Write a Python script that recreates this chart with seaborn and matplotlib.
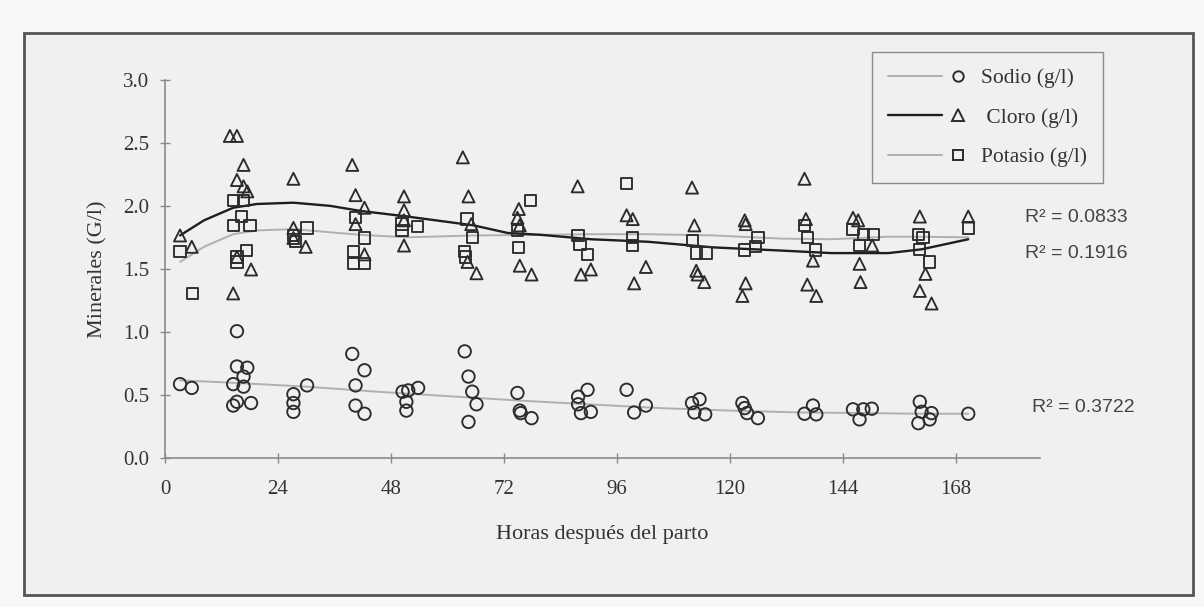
# Minerales en calostro: Sodio, Cloro y Potasio vs horas después del parto

import pandas as pd
import matplotlib
matplotlib.use('Agg')
import matplotlib.pyplot as plt
from matplotlib.patches import Rectangle
from matplotlib.lines import Line2D
from matplotlib.legend_handler import HandlerBase
import seaborn as sns

# --- datos ---
sodio_h = [3.2, 5.7,
           15.3, 15.3, 17.5, 16.7, 14.5, 16.7, 14.5, 15.3, 18.3,
           27.3, 27.3, 27.3, 30.2,
           39.8, 42.4, 40.5, 40.5, 42.4,
           50.5, 51.7, 53.8, 51.3, 51.3,
           63.7, 64.5, 65.3, 66.2, 64.5,
           74.9, 75.4, 75.6, 77.9,
           87.8, 89.8, 87.8, 88.4, 90.5,
           98.1, 99.7, 102.2,
           112.0, 113.6, 112.5, 114.8,
           122.7, 123.2, 123.7, 126.0,
           135.9, 137.7, 138.4,
           146.2, 147.6, 150.2, 148.4,
           160.4, 162.5, 160.1, 162.9, 160.8,
           170.7]
sodio_g = [0.59, 0.56,
           1.01, 0.73, 0.72, 0.65, 0.59, 0.57, 0.42, 0.45, 0.44,
           0.51, 0.44, 0.37, 0.58,
           0.83, 0.70, 0.58, 0.42, 0.355,
           0.53, 0.54, 0.56, 0.45, 0.38,
           0.85, 0.65, 0.53, 0.43, 0.29,
           0.52, 0.38, 0.36, 0.32,
           0.49, 0.545, 0.43, 0.36, 0.37,
           0.545, 0.365, 0.42,
           0.44, 0.47, 0.365, 0.35,
           0.44, 0.40, 0.36, 0.32,
           0.355, 0.42, 0.35,
           0.39, 0.31, 0.395, 0.39,
           0.45, 0.31, 0.28, 0.36, 0.37,
           0.355]

cloro_h = [3.2, 5.7,
           13.8, 15.3, 16.7, 15.3, 16.7, 17.5, 14.5, 18.3, 15.3,
           27.3, 27.3, 29.9, 27.3,
           39.8, 40.5, 42.4, 40.5, 42.4,
           50.8, 50.8, 50.8, 50.8,
           63.3, 64.5, 65.1, 64.3, 66.2,
           75.2, 74.9, 75.4, 75.4, 77.9,
           87.7, 88.4, 90.5,
           98.1, 99.4, 102.2, 99.7,
           112.0, 112.5, 112.9, 114.6, 113.2,
           123.2, 123.4, 123.4, 122.7,
           135.9, 136.2, 137.7, 136.5, 138.4,
           146.2, 147.3, 147.6, 147.8, 150.3,
           160.4, 161.6, 160.4, 162.9,
           170.7]
cloro_g = [1.77, 1.68,
           2.56, 2.56, 2.33, 2.21, 2.16, 2.12, 1.31, 1.50, 1.60,
           2.22, 1.83, 1.68, 1.75,
           2.33, 2.09, 1.99, 1.86, 1.62,
           2.08, 1.97, 1.89, 1.69,
           2.39, 2.08, 1.86, 1.56, 1.47,
           1.98, 1.91, 1.85, 1.53, 1.46,
           2.16, 1.46, 1.50,
           1.93, 1.90, 1.52, 1.39,
           2.15, 1.85, 1.49, 1.40, 1.46,
           1.89, 1.86, 1.39, 1.29,
           2.22, 1.90, 1.57, 1.38, 1.29,
           1.91, 1.89, 1.545, 1.40, 1.69,
           1.92, 1.465, 1.33, 1.23,
           1.92]

potasio_h = [3.2, 5.9,
             14.5, 16.7, 14.5, 18.1, 16.3, 17.4, 15.3, 15.3,
             30.2, 27.3, 27.7,
             40.5, 42.4, 40.0, 40.0, 42.4,
             50.4, 50.4, 53.7,
             64.2, 65.3, 63.7, 63.9,
             77.7, 74.9, 75.2,
             87.8, 88.2, 89.8,
             98.1, 99.4, 99.4,
             112.1, 112.9, 115.0,
             123.2, 126.0, 125.5,
             135.9, 136.6, 138.3,
             146.2, 147.6, 150.5, 148.4,
             160.1, 161.1, 160.4, 162.5,
             170.7]
potasio_g = [1.64, 1.31,
             2.05, 2.05, 1.85, 1.85, 1.92, 1.65, 1.60, 1.56,
             1.83, 1.77, 1.72,
             1.91, 1.75, 1.64, 1.55, 1.55,
             1.86, 1.81, 1.84,
             1.90, 1.755, 1.64, 1.60,
             2.05, 1.81, 1.675,
             1.77, 1.70, 1.62,
             2.18, 1.755, 1.69,
             1.73, 1.63, 1.63,
             1.655, 1.755, 1.68,
             1.85, 1.755, 1.655,
             1.82, 1.69, 1.78, 1.78,
             1.78, 1.755, 1.66, 1.56,
             1.83]

# líneas de tendencia
tend_sodio_h = [3.2, 15, 30, 45, 60, 75, 90, 105, 120, 135, 150, 160, 170.7]
tend_sodio_g = [0.62, 0.60, 0.57, 0.53, 0.495, 0.46, 0.43, 0.40, 0.38, 0.365, 0.36, 0.355, 0.355]

tend_cloro_h = [3.2, 8.3, 14.5, 19.6, 27.3, 35.1, 41.5, 51.5, 65.6, 72.8, 79.9, 90.5,
                102.6, 116.7, 131.0, 141.6, 153.7, 160.8, 170.7]
tend_cloro_g = [1.77, 1.89, 1.99, 2.02, 2.03, 2.005, 1.965, 1.92, 1.85, 1.79, 1.775, 1.74,
                1.72, 1.675, 1.65, 1.63, 1.63, 1.66, 1.74]

tend_potasio_h = [3.2, 8.3, 14.5, 19.6, 27.3, 41.5, 51.5, 65.6, 79.9, 90.5,
                  102.6, 116.7, 131.0, 141.6, 153.7, 160.8, 170.7]
tend_potasio_g = [1.56, 1.68, 1.78, 1.81, 1.82, 1.775, 1.755, 1.77, 1.775, 1.78,
                  1.78, 1.77, 1.745, 1.74, 1.76, 1.76, 1.755]

r2_labels = ['R² = 0.0833', 'R² = 0.1916', 'R² = 0.3722']

x_ticks = [0, 24, 48, 72, 96, 120, 144, 168]
y_ticks = [0.0, 0.5, 1.0, 1.5, 2.0, 2.5, 3.0]

# --- estilo ---
sns.set_style('ticks')
plt.rcParams['font.family'] = ['Liberation Serif', 'DejaVu Serif']

fig = plt.figure(figsize=(12.04, 6.07), dpi=100, facecolor='#f8f8f8')
fig.add_artist(Rectangle((0.0199, 0.0198), 0.971, 0.9258, transform=fig.transFigure,
                         facecolor='#f0f0f0', edgecolor='#555555', linewidth=2, zorder=-5))

ax = fig.add_axes([0.137, 0.2447, 0.727, 0.6227])
ax.set_facecolor('none')

ink = '#2b2b2b'
gris = '#b0b0b0'

# líneas de tendencia
sns.lineplot(x=tend_potasio_h, y=tend_potasio_g, color=gris, linewidth=1.4, ax=ax)
sns.lineplot(x=tend_sodio_h, y=tend_sodio_g, color=gris, linewidth=1.4, ax=ax)
sns.lineplot(x=tend_cloro_h, y=tend_cloro_g, color='#1e1e1e', linewidth=1.7, ax=ax)

# puntos
sns.scatterplot(x=sodio_h, y=sodio_g, marker='o', s=80, facecolors='none',
                edgecolors=ink, linewidths=1.35, ax=ax, zorder=3)
sns.scatterplot(x=cloro_h, y=cloro_g, marker='^', s=75, facecolors='none',
                edgecolors=ink, linewidths=1.35, ax=ax, zorder=3)
sns.scatterplot(x=potasio_h, y=potasio_g, marker='s', s=66, facecolors='none',
                edgecolors=ink, linewidths=1.35, ax=ax, zorder=3)

ax.set_xlim(0, 186)
ax.set_ylim(0, 3.0)
ax.set_xticks(x_ticks)
ax.set_yticks(y_ticks)
ax.set_yticklabels([f'{v:.1f}' for v in y_ticks])
ax.tick_params(direction='inout', length=7, width=1, color='#888888',
               labelsize=15, labelcolor='#333333')
ax.tick_params(axis='x', pad=12)
ax.tick_params(axis='y', pad=8)
sns.despine(ax=ax)
for side in ['left', 'bottom']:
    ax.spines[side].set_color('#8a8a8a')
    ax.spines[side].set_linewidth(1.2)

ax.set_xlabel('Horas después del parto', fontsize=16, color='#333333', labelpad=19)
ax.set_ylabel('Minerales (G/l)', fontsize=16, color='#333333', labelpad=11)


# leyenda: línea corta seguida del marcador, como en el original
class LineaMarcador(HandlerBase):
    def create_artists(self, legend, orig, xdescent, ydescent, width, height, fontsize, trans):
        linea, punto = orig
        y = height / 2 - ydescent
        x0 = -xdescent
        l = Line2D([x0, x0 + width * 0.72], [y, y], color=linea.get_color(),
                   linewidth=linea.get_linewidth(), transform=trans)
        m = Line2D([x0 + width * 0.93], [y], linestyle='none', marker=punto.get_marker(),
                   markersize=punto.get_markersize(), markerfacecolor='none',
                   markeredgecolor=ink, markeredgewidth=1.4, transform=trans)
        return [l, m]


def entrada(color, lw, marker, ms):
    return (Line2D([], [], color=color, linewidth=lw),
            Line2D([], [], linestyle='none', marker=marker, markersize=ms))


handles = [entrada(gris, 1.4, 'o', 7.5), entrada('#1e1e1e', 1.7, '^', 8), entrada(gris, 1.4, 's', 7)]
labels = ['Sodio (g/l)', ' Cloro (g/l)', 'Potasio (g/l)']
leg = ax.legend(handles, labels, handler_map={tuple: LineaMarcador()},
                loc='upper left', bbox_to_anchor=(0.7243, 0.9143), bbox_transform=fig.transFigure,
                borderaxespad=0, fontsize=15.5, handlelength=3.5, handletextpad=0.8,
                labelspacing=0.9, borderpad=0.75, fancybox=False, framealpha=1,
                facecolor='#f0f0f0', edgecolor='#8a8a8a')
leg.get_frame().set_linewidth(1)
for t in leg.get_texts():
    t.set_color('#333333')

# coeficientes R²
r2_pos = [(0.8513, 0.641), (0.8513, 0.583), (0.857, 0.328)]
for (fx, fy), txt in zip(r2_pos, r2_labels):
    fig.text(fx, fy, txt, family='Liberation Sans', fontsize=14, color='#444444', va='center')

fig.savefig('out.png', dpi=100, facecolor=fig.get_facecolor())
